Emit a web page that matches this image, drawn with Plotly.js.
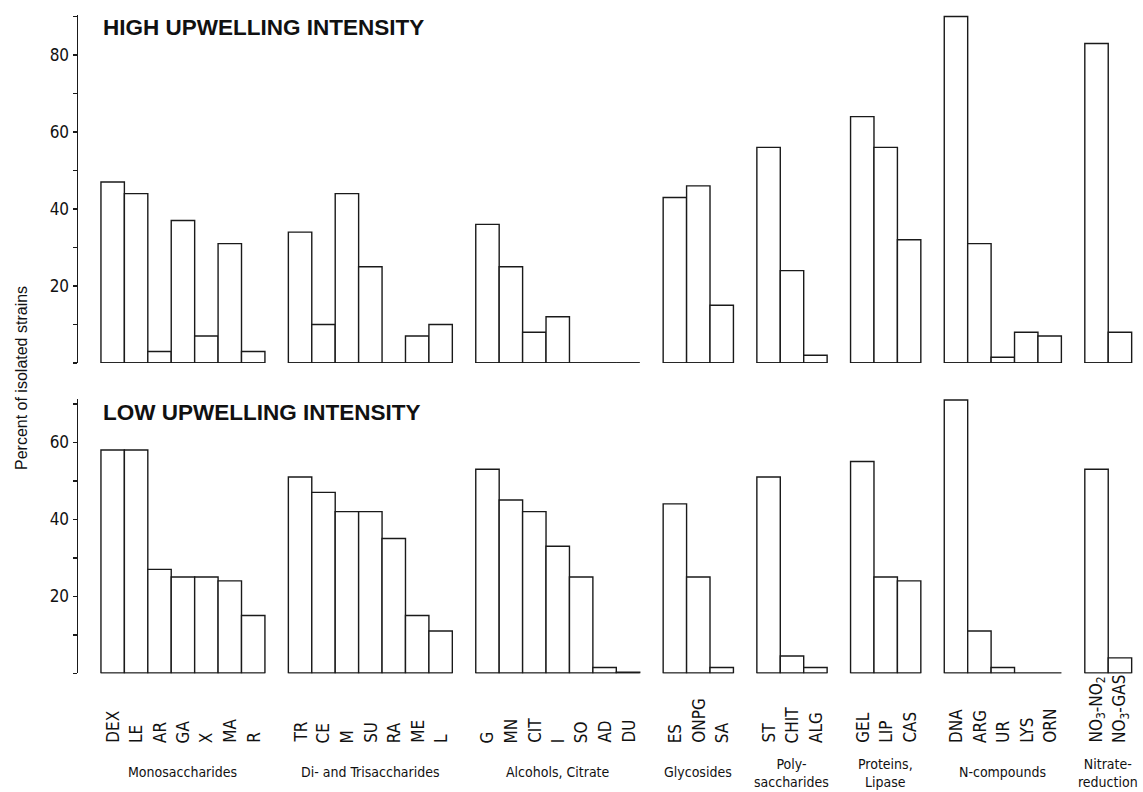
<!DOCTYPE html>
<html>
<head>
<meta charset="utf-8">
<script src="https://cdn.plot.ly/plotly-3.0.1.min.js"></script>
<style>html,body{margin:0;padding:0;background:#fff;}#chart{width:1143px;height:792px;}</style>
</head>
<body>
<div id="chart"></div>
<script>
// ---- data ----
const groupNames = ["Monosaccharides", "Di- and Trisaccharides", "Alcohols, Citrate", "Glycosides",
  "Poly-<br>saccharides", "Proteins,<br>Lipase", "N-compounds", "Nitrate-<br>reduction"];
const groupSizes = [7, 7, 7, 3, 3, 3, 5, 2];
const testLabels = ["DEX","LE","AR","GA","X","MA","R",
  "TR","CE","M","SU","RA","ME","L",
  "G","MN","CIT","I","SO","AD","DU",
  "ES","ONPG","SA",
  "ST","CHIT","ALG",
  "GEL","LIP","CAS",
  "DNA","ARG","UR","LYS","ORN",
  "NO<sub>3</sub>-NO<sub>2</sub>","NO<sub>3</sub>-GAS"];
const highValues = [47,44,3,37,7,31,3,
  34,10,44,25,0,7,10,
  36,25,8,12,0,0,0,
  43,46,15,
  56,24,2,
  64,56,32,
  90,31,1.5,8,7,
  83,8];
const lowValues = [58,58,27,25,25,24,15,
  51,47,42,42,35,15,11,
  53,45,42,33,25,1.5,0.3,
  44,25,1.5,
  51,4.5,1.5,
  55,25,24,
  71,11,1.5,0,0,
  53,4];
const highTitle = "HIGH UPWELLING INTENSITY";
const lowTitle = "LOW UPWELLING INTENSITY";
const yTitle = "Percent of isolated strains";
const highTickVals = [20,40,60,80];
const lowTickVals = [20,40,60];

// ---- positions derived from group layout (one empty slot between groups) ----
const xs = [];
const groupSpans = [];
let idx = 0;
groupSizes.forEach((n, g) => {
  const start = idx + g;
  for (let k = 0; k < n; k++) xs.push(start + k + 0.5);
  groupSpans.push([start, start + n]);
  idx += n;
});

const W = 1143, H = 792;
const pxY = p => (H - p) / H;
const lineCol = "#1a1a1a";
const narrow = "DejaVu Sans Condensed, sans-serif";

const barStyle = {color: "#ffffff", line: {color: lineCol, width: 1.4}};
const traces = [
  {type: "bar", x: xs, y: highValues, width: 1, marker: barStyle, xaxis: "x", yaxis: "y", hoverinfo: "x+y"},
  {type: "bar", x: xs, y: lowValues, width: 1, marker: barStyle, xaxis: "x2", yaxis: "y2", hoverinfo: "x+y"}
];

const shapes = [];
groupSpans.forEach(s => {
  shapes.push({type: "line", xref: "x", yref: "y", x0: s[0], x1: s[1], y0: 0, y1: 0, line: {color: lineCol, width: 1.5}});
  shapes.push({type: "line", xref: "x2", yref: "y2", x0: s[0], x1: s[1], y0: 0, y1: 0, line: {color: lineCol, width: 1.5}});
});

const annotations = [];
testLabels.forEach((t, i) => {
  annotations.push({text: t, x: xs[i], xref: "x", y: pxY(745), yref: "paper", textangle: -90,
    xanchor: "center", yanchor: "bottom", showarrow: false, font: {family: narrow, size: 17, color: "#111"}});
});
groupNames.forEach((t, g) => {
  const twoLine = t.indexOf("<br>") >= 0;
  annotations.push({text: t, x: (groupSpans[g][0] + groupSpans[g][1]) / 2, xref: "x",
    y: pxY(twoLine ? 772.5 : 772), yref: "paper", xanchor: "center", yanchor: "middle", showarrow: false,
    font: {family: narrow, size: 14, color: "#111"}});
});
annotations.push({text: "<b>" + highTitle + "</b>", x: 0, xref: "x", y: pxY(27.5), yref: "paper",
  xanchor: "left", yanchor: "middle", showarrow: false, font: {family: "Liberation Sans, Arial, sans-serif", size: 22.5, color: "#111"}});
annotations.push({text: "<b>" + lowTitle + "</b>", x: 0, xref: "x", y: pxY(413), yref: "paper",
  xanchor: "left", yanchor: "middle", showarrow: false, font: {family: "Liberation Sans, Arial, sans-serif", size: 22.5, color: "#111"}});
annotations.push({text: yTitle, x: (21 - 78) / (W - 78 - 9), xref: "paper", y: pxY(378), yref: "paper",
  textangle: -90, xanchor: "center", yanchor: "middle", showarrow: false,
  font: {family: "Liberation Sans, Arial, sans-serif", size: 16, color: "#111"}});

const xRange = [-0.98, 44.1];
const hiddenX = {range: xRange, visible: false, showgrid: false, zeroline: false, fixedrange: true};
const yBase = {showline: true, linecolor: lineCol, linewidth: 1.5, ticks: "outside", ticklen: 4, tickwidth: 1.5,
  tickcolor: lineCol, showgrid: false, zeroline: false, tickmode: "array",
  minor: {tickmode: "linear", tick0: 0, dtick: 10, ticks: "outside", ticklen: 4, tickwidth: 1.5, tickcolor: lineCol, showgrid: false},
  tickfont: {family: narrow, size: 17, color: "#111"}, fixedrange: true};

const layout = {
  width: W, height: H,
  margin: {l: 78, r: 9, t: 0, b: 0},
  paper_bgcolor: "#ffffff", plot_bgcolor: "#ffffff",
  showlegend: false,
  xaxis: Object.assign({}, hiddenX, {anchor: "y"}),
  xaxis2: Object.assign({}, hiddenX, {anchor: "y2"}),
  yaxis: Object.assign({}, yBase, {domain: [pxY(363), pxY(14.96)], range: [0, 90.4], anchor: "x",
    tickvals: highTickVals}),
  yaxis2: Object.assign({}, yBase, {domain: [pxY(673.3), pxY(398.6)], range: [0, 71.35], anchor: "x2",
    tickvals: lowTickVals}),
  shapes: shapes,
  annotations: annotations
};

Plotly.newPlot("chart", traces, layout, {displayModeBar: false, staticPlot: true});
</script>
</body>
</html>
